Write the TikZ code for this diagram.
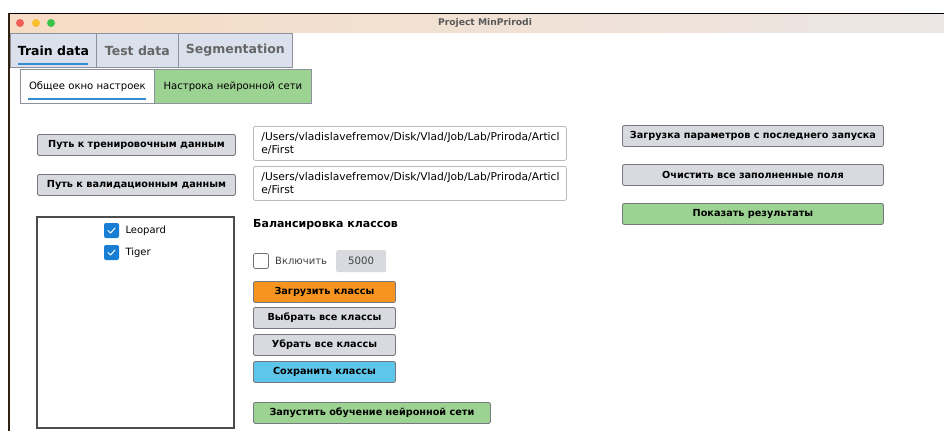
\documentclass[tikz,border=0pt]{standalone}
\usepackage{fontspec}
\setmainfont{DejaVu Sans}
\usepackage{tikz}
\usetikzlibrary{shapes,backgrounds}
\definecolor{titleleft}{RGB}{246, 220, 196}
\definecolor{titleright}{RGB}{236, 230, 228}
\definecolor{tabfill}{RGB}{218, 225, 237}
\definecolor{tabedge}{RGB}{140, 145, 155}
\definecolor{accentblue}{RGB}{52, 140, 214}
\definecolor{btngray}{RGB}{216, 218, 223}
\definecolor{btnedge}{RGB}{118, 122, 128}
\definecolor{okgreen}{RGB}{156, 210, 146}
\definecolor{loadorange}{RGB}{247, 148, 32}
\definecolor{savecyan}{RGB}{94, 198, 234}
\definecolor{fieldedge}{RGB}{185, 185, 188}
\definecolor{checkblue}{RGB}{24, 126, 212}
\definecolor{lightred}{RGB}{242, 95, 88}
\definecolor{lightyellow}{RGB}{251, 190, 46}
\definecolor{lightgreen}{RGB}{59, 196, 76}

\tikzset{
    btn/.style={draw=btnedge, line width=0.9pt, fill=btngray, rounded corners=2pt, anchor=north west, inner sep=0pt, minimum height=21pt, font=\fontsize{9.7}{11}\selectfont\bfseries},
    tabcell/.style={draw=tabedge, line width=0.8pt, fill=tabfill, anchor=north west, inner sep=0pt, minimum height=34pt, font=\fontsize{12.5}{14}\selectfont\bfseries},
    subtab/.style={draw=tabedge, line width=0.8pt, anchor=north west, inner sep=0pt, minimum height=34pt, font=\fontsize{10.1}{12}\selectfont},
    pathfield/.style={draw=fieldedge, line width=0.8pt, fill=white, rounded corners=2pt, anchor=north west, inner xsep=8pt, text width=297pt, minimum height=34pt, align=left, font=\fontsize{10.7}{13.5}\selectfont},
    chkbox/.style={fill=checkblue, rounded corners=2pt, minimum size=15pt, inner sep=0pt},
    tick/.style={white, line width=1pt, line cap=round, line join=round},
    light/.style={circle, inner sep=0pt, minimum size=8pt}
}

\begin{document}
\begin{tikzpicture}[x=1pt, y=-1pt]
    \useasboundingbox[fill=white] (0,0) rectangle (944,431);

    \shade[left color=titleleft, right color=titleright] (9,13) rectangle (944,32);
    \draw[black, line width=1pt] (9,13) -- (944,13);
    \draw[black!75!brown, line width=1.2pt] (9,13) -- (9,431);
    \node[light, fill=lightred] (red) at (20,23) {};
    \node[light, fill=lightyellow] (yellow) at (36,23) {};
    \node[light, fill=lightgreen] (green) at (51,23) {};
    \node[text=black!65, font=\fontsize{9.2}{11}\selectfont\bfseries] (title) at (485,23) {Project MinPrirodi};

    \node[tabcell, minimum width=86pt] (traintab) at (10,33) {Train data};
    \node[tabcell, minimum width=82pt, text=black!60] (testtab) at (96,33) {Test data};
    \node[tabcell, minimum width=114pt, text=black!60] (segtab) at (178,33) {Segmentation};
    \draw[accentblue, line width=2pt] (18,64) -- (88,64);

    \node[subtab, fill=white, minimum width=134pt] (generaltab) at (20,69) {Общее окно настроек};
    \node[subtab, fill=okgreen, minimum width=157pt] (nettab) at (154,69) {Настрока нейронной сети};
    \draw[accentblue, line width=2pt] (28,99) -- (146,99);

    \node[btn, minimum width=198pt] (trainbtn) at (37,134) {Путь к тренировочным данным};
    \node[btn, minimum width=198pt] (validbtn) at (37,174) {Путь к валидационным данным};

    \node[pathfield] (trainpath) at (253,126) {/Users/vladislavefremov/Disk/Vlad/Job/Lab/Priroda/Articl\\e/First};
    \node[pathfield] (validpath) at (253,166) {/Users/vladislavefremov/Disk/Vlad/Job/Lab/Priroda/Articl\\e/First};

    \draw[black!70, line width=1.4pt] (37,217) rectangle (234,428);
    \node[chkbox] (leochk) at (111.5,230.5) {};
    \draw[tick] (leochk.center) ++(-3.5,0) -- ++(2.5,2.5) -- ++(4.5,-5);
    \node[anchor=west, font=\fontsize{10}{12}\selectfont] (leolabel) at (122,230.5) {Leopard};
    \node[chkbox] (tigchk) at (111.5,252.5) {};
    \draw[tick] (tigchk.center) ++(-3.5,0) -- ++(2.5,2.5) -- ++(4.5,-5);
    \node[anchor=west, font=\fontsize{10}{12}\selectfont] (tiglabel) at (122,252.5) {Tiger};

    \node[anchor=west, inner sep=0pt, font=\fontsize{11}{13}\selectfont\bfseries] (balance) at (253,225) {Балансировка классов};
    \node[draw=black!55, line width=0.8pt, rounded corners=2pt, minimum size=15pt, inner sep=0pt] (balchk) at (261,261) {};
    \node[anchor=west, inner sep=0pt, text=black!75, font=\fontsize{10}{12}\selectfont] (enable) at (275,261) {Включить};
    \node[fill=btngray, rounded corners=2pt, anchor=north west, minimum width=50pt, minimum height=22pt, inner sep=0pt, text=black!75, font=\fontsize{10.2}{12}\selectfont] (count) at (336,250) {5000};

    \node[btn, fill=loadorange, minimum width=142pt] (loadbtn) at (253,281) {Загрузить классы};
    \node[btn, minimum width=142pt] (selectbtn) at (253,307) {Выбрать все классы};
    \node[btn, minimum width=142pt] (removebtn) at (253,334) {Убрать все классы};
    \node[btn, fill=savecyan, minimum width=142pt] (savebtn) at (253,361) {Сохранить классы};
    \node[btn, fill=okgreen, minimum width=237pt] (trainrun) at (253,402) {Запустить обучение нейронной сети};

    \node[btn, minimum width=261pt] (lastbtn) at (622,125) {Загрузка параметров с последнего запуска};
    \node[btn, minimum width=261pt] (clearbtn) at (622,164) {Очистить все заполненные поля};
    \node[btn, fill=okgreen, minimum width=261pt] (showbtn) at (622,203) {Показать результаты};
\end{tikzpicture}
\end{document}
